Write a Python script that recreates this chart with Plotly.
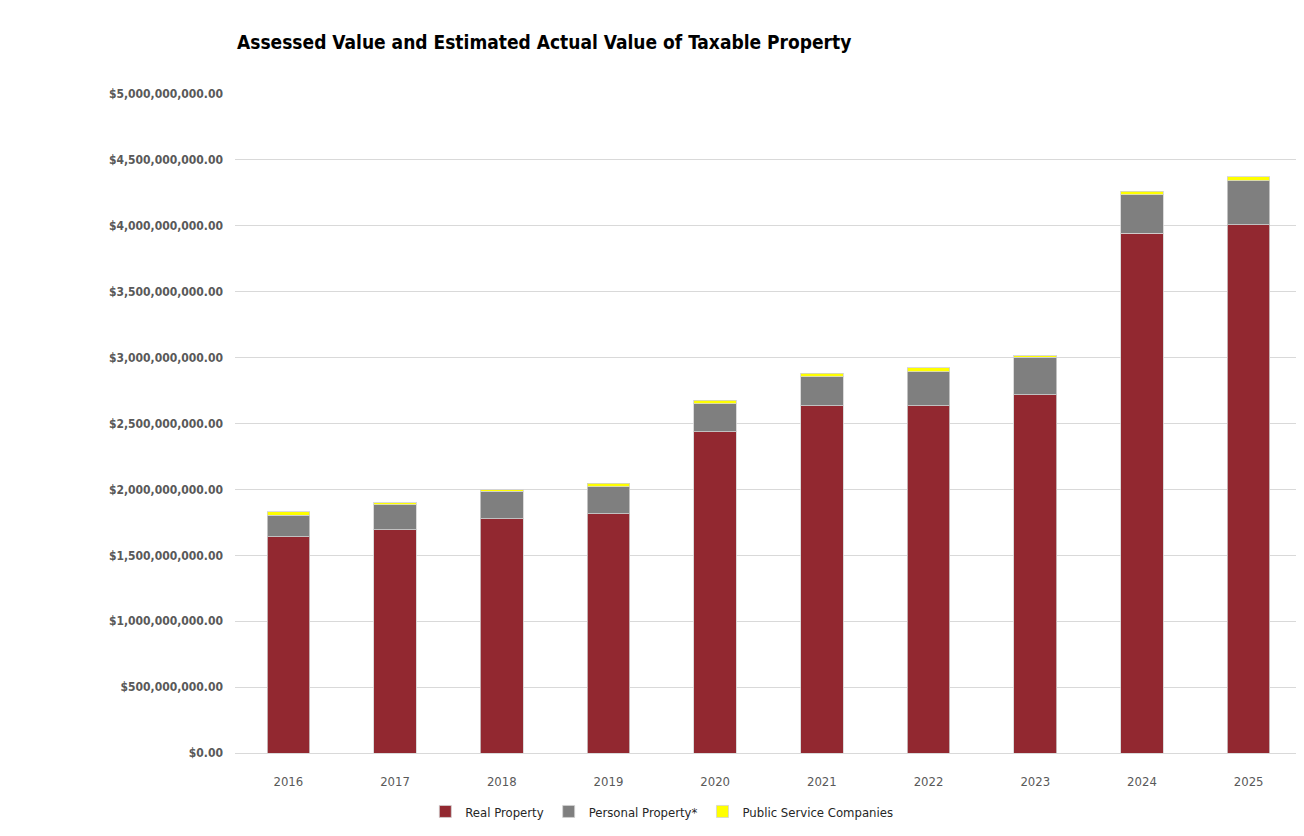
import plotly.graph_objects as go

# data
years = ["2016", "2017", "2018", "2019", "2020", "2021", "2022", "2023", "2024", "2025"]
real_property = [1.641e9, 1.694e9, 1.778e9, 1.816e9, 2.438e9, 2.635e9, 2.635e9, 2.719e9, 3.943e9, 4.008e9]
personal_property = [0.162e9, 0.190e9, 0.209e9, 0.205e9, 0.212e9, 0.218e9, 0.258e9, 0.283e9, 0.291e9, 0.334e9]
public_service = [0.028e9, 0.015e9, 0.012e9, 0.025e9, 0.028e9, 0.028e9, 0.030e9, 0.012e9, 0.030e9, 0.031e9]

FONT = "DejaVu Sans Condensed, Lato, sans-serif"

#Bars-----------------------------------------------------------------------------------------------------------------
fig = go.Figure()
series = [
    ("Real Property", real_property, "#922830"),
    ("Personal Property*", personal_property, "#7f7f7f"),
    ("Public Service Companies", public_service, "#ffff00"),
]
for name, vals, col in series:
    fig.add_trace(go.Bar(x=years, y=vals, name=name, marker_color=col,
                         marker_line=dict(color="rgba(210,210,210,0.8)", width=1)))

#Layout---------------------------------------------------------------------------------------------------------------
# page body adds an 8px offset, margins below are relative to the figure
fig.update_layout(
    barmode="stack",
    bargap=0.6,
    width=1296, height=828,
    margin=dict(l=227, r=2, t=86, b=83),
    plot_bgcolor="white",
    paper_bgcolor="white",
    font=dict(family=FONT, color="#595959", size=13),
    title=dict(text="<b>Assessed Value and Estimated Actual Value of Taxable Property</b>",
               x=229 / 1296, xanchor="left", y=1 - 34 / 828, yanchor="middle",
               font=dict(family=FONT, size=19, color="black")),
    legend=dict(orientation="h", x=0.40, xanchor="center", y=-0.066, yanchor="top",
                font=dict(family=FONT, size=13, color="#262626"), traceorder="normal"),
    showlegend=True,
    # thin chart border on the right edge
    shapes=[dict(type="line", xref="paper", yref="paper", x0=1, x1=1, y0=-0.126, y1=1.13,
                 line=dict(color="#d9d9d9", width=1))],
)
fig.update_yaxes(range=[0, 5e9], dtick=5e8, tickformat="$,.2f", gridcolor="#d9d9d9",
                 zeroline=False, ticks="", ticklabelstandoff=11,
                 tickfont=dict(family=FONT, size=12, color="#595959", weight="bold"))
fig.update_xaxes(showline=True, linecolor="#d9d9d9", ticks="", ticklabelstandoff=16,
                 tickfont=dict(family=FONT, size=13, color="#595959"))

fig.write_html("out.html")
